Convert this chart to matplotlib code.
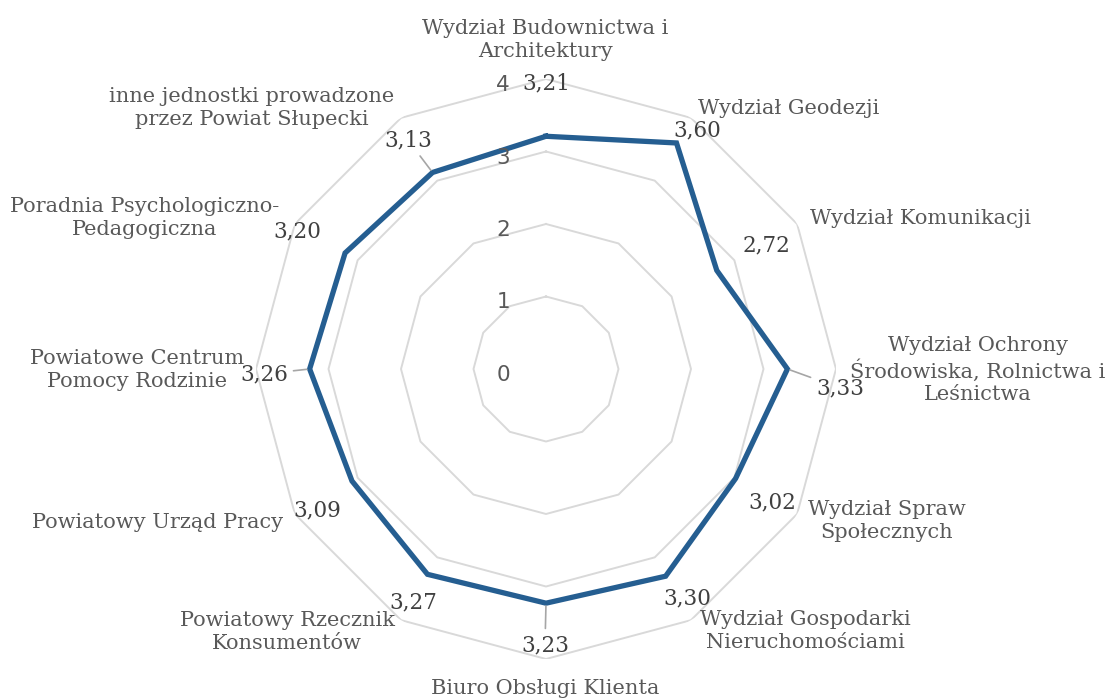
import numpy as np
import matplotlib.pyplot as plt

categories = [
    "Wydział Budownictwa i\nArchitektury",
    "Wydział Geodezji",
    "Wydział Komunikacji",
    "Wydział Ochrony\nŚrodowiska, Rolnictwa i\nLeśnictwa",
    "Wydział Spraw\nSpołecznych",
    "Wydział Gospodarki\nNieruchomościami",
    "Biuro Obsługi Klienta",
    "Powiatowy Rzecznik\nKonsumentów",
    "Powiatowy Urząd Pracy",
    "Powiatowe Centrum\nPomocy Rodzinie",
    "Poradnia Psychologiczno-\nPedagogiczna",
    "inne jednostki prowadzone\nprzez Powiat Słupecki",
]
values = [3.21, 3.60, 2.72, 3.33, 3.02, 3.30, 3.23, 3.27, 3.09, 3.26, 3.20, 3.13]
rings = [0, 1, 2, 3, 4]

W, H = 1107, 698
cx, cy, R = 546, 369, 290   # centre and outer radius in pixels (from top-left)

# label placements in image pixels (x, y from top)
cat_pos = [(545, 40), (789, 108), (921, 218), (978, 370), (887, 521),
           (805, 631), (545, 688), (287, 632), (158, 522), (137, 370),
           (145, 218), (252, 108)]
val_pos = [(546, 83), (697, 130), (767, 245), (840, 388), (772, 502),
           (687, 598), (545, 645), (413, 602), (317, 510), (264, 374),
           (297, 231), (408, 140)]
leader = [False, False, False, True, False, False, True, False, False, True, False, True]

fig = plt.figure(figsize=(W / 100, H / 100), dpi=100)
ax = fig.add_axes([(cx - R) / W, (H - cy - R) / H, 2 * R / W, 2 * R / H],
                  projection="polar")
ax.set_theta_zero_location("N")
ax.set_theta_direction(-1)
ax.set_ylim(0, 4)
ax.grid(False)
ax.spines["polar"].set_visible(False)
ax.set_xticks([])
ax.set_yticks([])
ax.patch.set_alpha(0)

n = len(values)
theta = np.arange(n) * 2 * np.pi / n
theta_c = np.append(theta, theta[0])

# polygon gridlines
for r in rings[1:]:
    ax.plot(theta_c, [r] * (n + 1), color="#d9d9d9", lw=1.4, zorder=1)

ax.plot(theta_c, values + values[:1], color="#255e91", lw=3.8,
        solid_joinstyle="miter", zorder=3)

for r in rings:
    ax.annotate(str(r), xy=(0, r), xytext=(-36, -6), textcoords="offset pixels",
                ha="right", va="center", fontsize=15.5, color="#595959",
                family="DejaVu Sans")

serif = "DejaVu Serif"
for lab, (x, y) in zip(categories, cat_pos):
    fig.text(x / W, 1 - y / H, lab, ha="center", va="center", fontsize=15,
             color="#595959", family=serif, linespacing=1.22)

for t, v, (x, y), ld in zip(theta, values, val_pos, leader):
    props = None
    if ld:
        props = dict(arrowstyle="-", color="#a6a6a6", lw=1.2, shrinkA=2, shrinkB=2)
    ax.annotate(f"{v:.2f}".replace(".", ","), xy=(t, v),
                xytext=(x, H - y), textcoords="figure pixels",
                ha="center", va="center", fontsize=15.5, color="#404040",
                family=serif, arrowprops=props, zorder=4)

fig.savefig("out.png", dpi=100)
